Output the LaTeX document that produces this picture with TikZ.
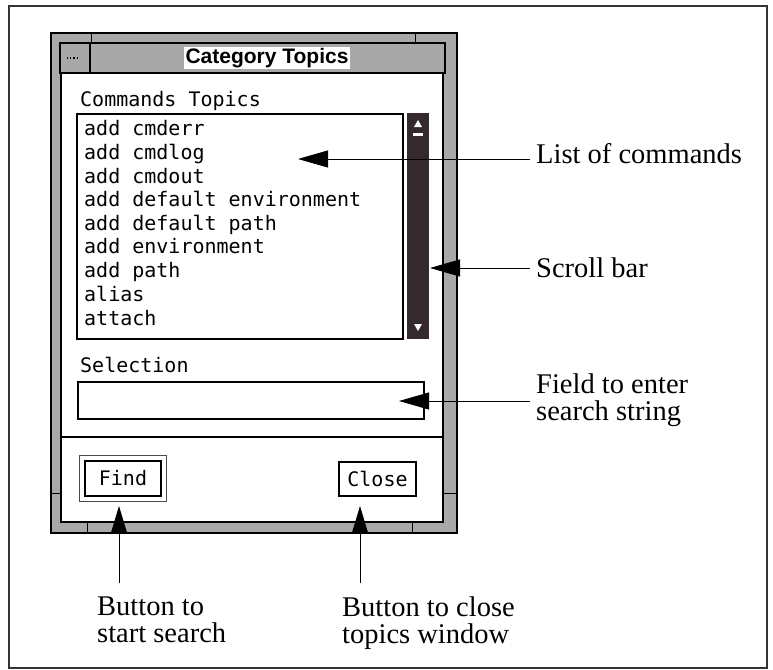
\documentclass[tikz,border=0pt]{standalone}
\usepackage{fontspec}
\usetikzlibrary{arrows.meta}
\newfontfamily\uimono{DejaVu Sans Mono}
\newfontfamily\uititle{Liberation Sans}
\newfontfamily\calloutfont{Liberation Serif}
\definecolor{frame}{RGB}{168,168,168}
\definecolor{thumb}{RGB}{52,42,44}

\begin{document}
\begin{tikzpicture}[x=1pt,y=-1pt,
  border/.style={fill=frame, draw=black, line width=1.6pt},
  edge/.style={draw=black, line width=1.4pt},
  uitext/.style={font=\uimono\fontsize{20}{20}\selectfont, anchor=base west, inner sep=0},
  callout/.style={font=\calloutfont\fontsize{28.5}{27}\selectfont, align=left, inner sep=0},
  sidecallout/.style={callout, anchor=base west},
  lowcallout/.style={callout, anchor=north west},
  pointer/.style={line width=0.9pt, -{Triangle[length=30pt,width=17pt]}},
  uppointer/.style={line width=0.9pt, -{Triangle[length=27pt,width=16pt]}},
  btn/.style={draw=black, line width=2pt, font=\uimono\fontsize{20}{20}\selectfont, inner sep=0}
]
\useasboundingbox (0,0) rectangle (773,669);
\draw[line width=1.8pt, black!80] (9,6) rectangle (767,668);

% window frame and title bar
\path[border] (51,33) rectangle (457,533);
\draw[edge, line width=1pt] (91,33) -- (91,43) (415,33) -- (415,43);
\draw[edge, line width=1pt] (87,522) -- (87,533) (412,522) -- (412,533);
\draw[edge, line width=1pt] (51,493) -- (61,493) (443,493) -- (457,493);
\draw[edge] (60,43) rectangle (445,73);
\draw[edge] (60,43) rectangle (90,73);
\draw[line width=1.2pt, dotted] (67,58) -- (78,58);
\node[fill=white, inner xsep=2pt, inner ysep=1pt,
      font=\uititle\bfseries\fontsize{21}{21}\selectfont] (title) at (267,58) {Category Topics};

% client area
\path[fill=white, edge] (61,73) rectangle (443,522);
\draw[edge, line width=1.2pt] (61,437) -- (443,437);

% command list with scroll bar
\node[uitext] (listhead) at (80,106) {Commands Topics};
\draw[edge, line width=1.6pt] (77,114) rectangle (403,339);
\path[fill=thumb] (407,113) rectangle (429,339);
\fill[white] (414,127) -- (422,127) -- (418,120) -- cycle;
\fill[white] (413,133) rectangle (423,136);
\fill[white] (414,324) -- (422,324) -- (418,331) -- cycle;
\foreach \y/\cmd [count=\i] in {135/add cmderr, 159/add cmdlog, 183/add cmdout,
    206/add default environment, 230/add default path, 253/add environment,
    277/add path, 301/alias, 325/attach}
  \node[uitext] (item\i) at (84,\y) {\cmd};

% selection field
\node[uitext] (selhead) at (80,372) {Selection};
\draw[edge, line width=1.8pt] (78,382) rectangle (424,419);

% buttons
\node[btn, minimum width=76pt, minimum height=35pt] (find) at (123,478.5) {Find};
\node[draw=black!70, line width=1pt, minimum width=87pt, minimum height=46pt, inner sep=0] (findring) at (find) {};
\node[btn, minimum width=77pt, minimum height=34pt] (close) at (377.5,479) {Close};

% callouts
\node[sidecallout] (lbllist) at (536,163) {List of commands};
\node[sidecallout] (lblscroll) at (536,277) {Scroll bar};
\node[callout, anchor=west] (lblfield) at (536,400) {Field to enter\\search string};
\node[lowcallout] (lblfind) at (97,597) {Button to\\start search};
\node[lowcallout] (lblclose) at (342,597) {Button to close\\topics window};

\coordinate (tiplist) at (298,159);
\coordinate (tipscroll) at (430,268);
\coordinate (tipfield) at (399,401);
\coordinate (tipfind) at (119,506);
\coordinate (tipclose) at (360,506);
\coordinate (tailfind) at (119,583);
\coordinate (tailclose) at (360,583);

\draw[pointer] ([xshift=-6pt]lbllist.west |- tiplist) -- (tiplist);
\draw[pointer] ([xshift=-6pt]lblscroll.west |- tipscroll) -- (tipscroll);
\draw[pointer] ([xshift=-6pt]lblfield.west |- tipfield) -- (tipfield);
\draw[uppointer] (tailfind) -- (tipfind);
\draw[uppointer] (tailclose) -- (tipclose);
\end{tikzpicture}
\end{document}
